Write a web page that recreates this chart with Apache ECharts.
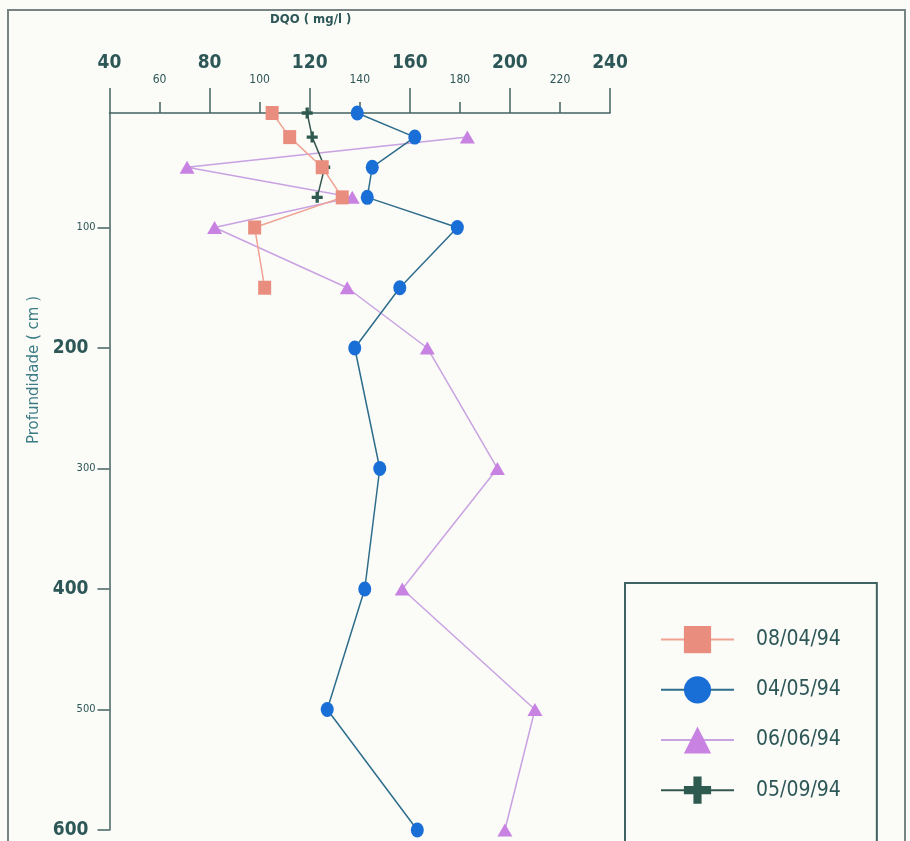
<!DOCTYPE html>
<html>
<head>
<meta charset="utf-8">
<script src="https://cdn.jsdelivr.net/npm/echarts@6/dist/echarts.min.js"></script>
<style>
  html, body { margin: 0; padding: 0; background: #fbfbf7; }
  #chart { width: 910px; height: 841px; }
</style>
</head>
<body>
<div id="chart"></div>
<script>
// DQO (mg/l) profiles versus depth (cm), one series per sampling date
const seriesNames = ['08/04/94', '04/05/94', '06/06/94', '05/09/94'];

const depth0804 = [5, 25, 50, 75, 100, 150];
const dqo0804   = [105, 112, 125, 133, 98, 102];

const depth0405 = [5, 25, 50, 75, 100, 150, 200, 300, 400, 500, 600];
const dqo0405   = [139, 162, 145, 143, 179, 156, 138, 148, 142, 127, 163];

const depth0606 = [25, 50, 75, 100, 150, 200, 300, 400, 500, 600];
const dqo0606   = [183, 71, 137, 82, 135, 167, 195, 157, 210, 198];

const depth0509 = [5, 25, 50, 75];
const dqo0509   = [119, 121, 126, 123];

const depthTicks = [100, 200, 300, 400, 500, 600];
const depthLabelsSmall = [100, 300, 500];
const depthLabelsLarge = [200, 400, 600];

const TEXT = '#2d5757';
const AXIS = '#456363';
const NARROW = '"Liberation Sans Narrow", "Arial Narrow", "DejaVu Sans Condensed", sans-serif';

const pairs = (xs, ys) => xs.map((x, i) => [x, ys[i]]);
const PLUS = 'path://M3.5,0 H6.5 V3.5 H10 V6.5 H6.5 V10 H3.5 V6.5 H0 V3.5 H3.5 Z';

const chart = echarts.init(document.getElementById('chart'), null, { renderer: 'canvas' });

chart.setOption({
  backgroundColor: '#fbfbf7',
  animation: false,
  graphic: [
    {
      type: 'rect', silent: true, z: 0,
      shape: { x: 8, y: 10, width: 897, height: 850 },
      style: { fill: 'none', stroke: '#788484', lineWidth: 2 }
    },
    {
      type: 'text', left: 270, top: 13,
      style: { text: 'DQO ( mg/l )', fill: TEXT, font: 'bold 13px ' + NARROW }
    },
    {
      type: 'text', left: 27, top: 296, rotation: Math.PI / 2,
      style: { text: 'Profundidade ( cm )', fill: '#3c7c86', font: '15px "DejaVu Sans", sans-serif' }
    }
  ],
  grid: { left: 109.5, right: 300, top: 113, bottom: 11, containLabel: false },
  xAxis: [
    {
      type: 'value', position: 'top', min: 40, max: 240, interval: 20,
      axisLine: { show: true, lineStyle: { color: AXIS, width: 1.5 } },
      axisTick: { show: true, length: 11, lineStyle: { color: AXIS, width: 1.5 } },
      splitLine: { show: false },
      axisLabel: {
        margin: 27, color: TEXT, fontFamily: NARROW, fontSize: 12, lineHeight: 12,
        formatter: v => ((v - 40) % 40 === 0 ? '' : String(v))
      }
    },
    {
      type: 'value', position: 'top', min: 40, max: 240, interval: 40,
      axisLine: { show: false },
      axisTick: { show: true, length: 25, lineStyle: { color: AXIS, width: 1.5 } },
      splitLine: { show: false },
      axisLabel: {
        margin: 40, color: TEXT, fontFamily: NARROW, fontSize: 19, fontWeight: 'bold', lineHeight: 19
      }
    }
  ],
  yAxis: [
    {
      type: 'value', inverse: true, min: 5, max: 600,
      axisLine: { show: true, lineStyle: { color: AXIS, width: 1.5 } },
      axisTick: { show: true, length: 12, customValues: depthTicks, lineStyle: { color: AXIS, width: 1.5 } },
      splitLine: { show: false },
      axisLabel: {
        margin: 14, color: TEXT, fontFamily: NARROW, fontSize: 11,
        customValues: depthLabelsSmall
      }
    },
    {
      type: 'value', inverse: true, min: 5, max: 600, position: 'left',
      axisLine: { show: false },
      axisTick: { show: false },
      splitLine: { show: false },
      axisLabel: {
        margin: 21, color: TEXT, fontFamily: NARROW, fontSize: 19, fontWeight: 'bold',
        customValues: depthLabelsLarge
      }
    }
  ],
  legend: {
    orient: 'vertical', left: 625, top: 583, height: 400,
    data: seriesNames,
    padding: [43, 36, 80, 35],
    itemWidth: 73, itemHeight: 34, itemGap: 23,
    borderColor: '#3f6262', borderWidth: 2, backgroundColor: '#fbfbf7',
    textStyle: { color: TEXT, fontSize: 21, fontFamily: NARROW, padding: [0, 0, 0, 17] }
  },
  series: [
    {
      name: seriesNames[0], type: 'line', z: 4,
      data: pairs(dqo0804, depth0804),
      symbol: 'rect', symbolSize: [13, 14],
      lineStyle: { color: '#f0a393', width: 1.5 },
      itemStyle: { color: '#e98e7f' }
    },
    {
      name: seriesNames[1], type: 'line', z: 5,
      data: pairs(dqo0405, depth0405),
      symbol: 'circle', symbolSize: [13, 15],
      lineStyle: { color: '#2e6d8c', width: 1.5 },
      itemStyle: { color: '#1a6fd6' }
    },
    {
      name: seriesNames[2], type: 'line', z: 2,
      data: pairs(dqo0606, depth0606),
      symbol: 'triangle', symbolSize: [15, 13],
      lineStyle: { color: '#c9a2e2', width: 1.5 },
      itemStyle: { color: '#c883e2' }
    },
    {
      name: seriesNames[3], type: 'line', z: 3,
      data: pairs(dqo0509, depth0509),
      symbol: PLUS, symbolSize: 11,
      lineStyle: { color: '#34584f', width: 1.5 },
      itemStyle: { color: '#2f5a4f' }
    }
  ]
});
</script>
</body>
</html>
